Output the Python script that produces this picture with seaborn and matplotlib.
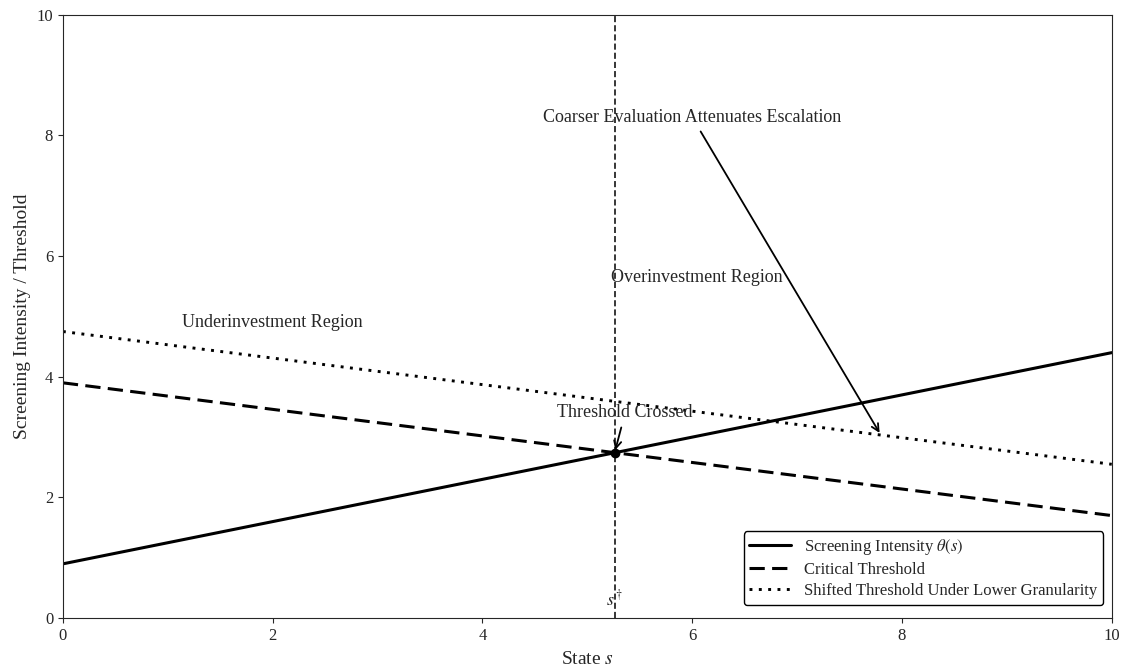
import numpy as np
import pandas as pd
import matplotlib
matplotlib.use("Agg")
import matplotlib.pyplot as plt
import seaborn as sns

# state grid and the three curves
s_vals = [0, 10]
screening = [0.9, 4.4]
critical = [3.9, 1.7]
shifted = [4.75, 2.55]
s_dagger = 5.26
y_dagger = 2.74

sns.set_style("ticks")
plt.rcParams["font.family"] = ["Liberation Serif", "DejaVu Serif"]
plt.rcParams["mathtext.fontset"] = "stix"

fig, ax = plt.subplots(figsize=(11.23, 6.69), dpi=100)

df = pd.DataFrame({"s": s_vals, "screening": screening,
                   "critical": critical, "shifted": shifted})

sns.lineplot(data=df, x="s", y="screening", ax=ax, color="black", lw=2.2,
             label=r"Screening Intensity $\theta(s)$")
sns.lineplot(data=df, x="s", y="critical", ax=ax, color="black", lw=2.2,
             linestyle=(0, (5, 2.4)), label="Critical Threshold")
sns.lineplot(data=df, x="s", y="shifted", ax=ax, color="black", lw=2.1,
             linestyle=(0, (1, 2.2)), label="Shifted Threshold Under Lower Granularity")

ax.axvline(s_dagger, color="black", lw=1.1, linestyle=(0, (4, 2)))
ax.plot([s_dagger], [y_dagger], "o", color="black", ms=6)

ax.text(s_dagger, 0.15, r"$s^\dagger$", ha="center", va="bottom", fontsize=13)

ax.annotate("Threshold Crossed", xy=(s_dagger, y_dagger), xytext=(5.36, 3.4),
            ha="center", va="center", fontsize=13,
            arrowprops=dict(arrowstyle="->", color="black", lw=1.3))
ax.annotate("Coarser Evaluation Attenuates Escalation", xy=(7.8, 3.03),
            xytext=(6.0, 8.3), ha="center", va="center", fontsize=13,
            arrowprops=dict(arrowstyle="->", color="black", lw=1.3))

ax.text(2.0, 4.9, "Underinvestment Region", ha="center", va="center", fontsize=13)
ax.text(6.04, 5.65, "Overinvestment Region", ha="center", va="center", fontsize=13)

ax.set_xlim(0, 10)
ax.set_ylim(0, 10)
ax.set_xlabel(r"State $s$", fontsize=14, labelpad=5)
ax.set_ylabel("Screening Intensity / Threshold", fontsize=14)
ax.tick_params(labelsize=12)

leg = ax.legend(loc="lower right", bbox_to_anchor=(1, 0.008), fontsize=12,
                frameon=True, fancybox=True, handlelength=2.5,
                labelspacing=0.3, borderpad=0.35)
leg.get_frame().set_edgecolor("black")
leg.get_frame().set_alpha(1)

fig.subplots_adjust(left=0.056, right=0.99, top=0.978, bottom=0.076)
fig.savefig("out.png", dpi=100)
